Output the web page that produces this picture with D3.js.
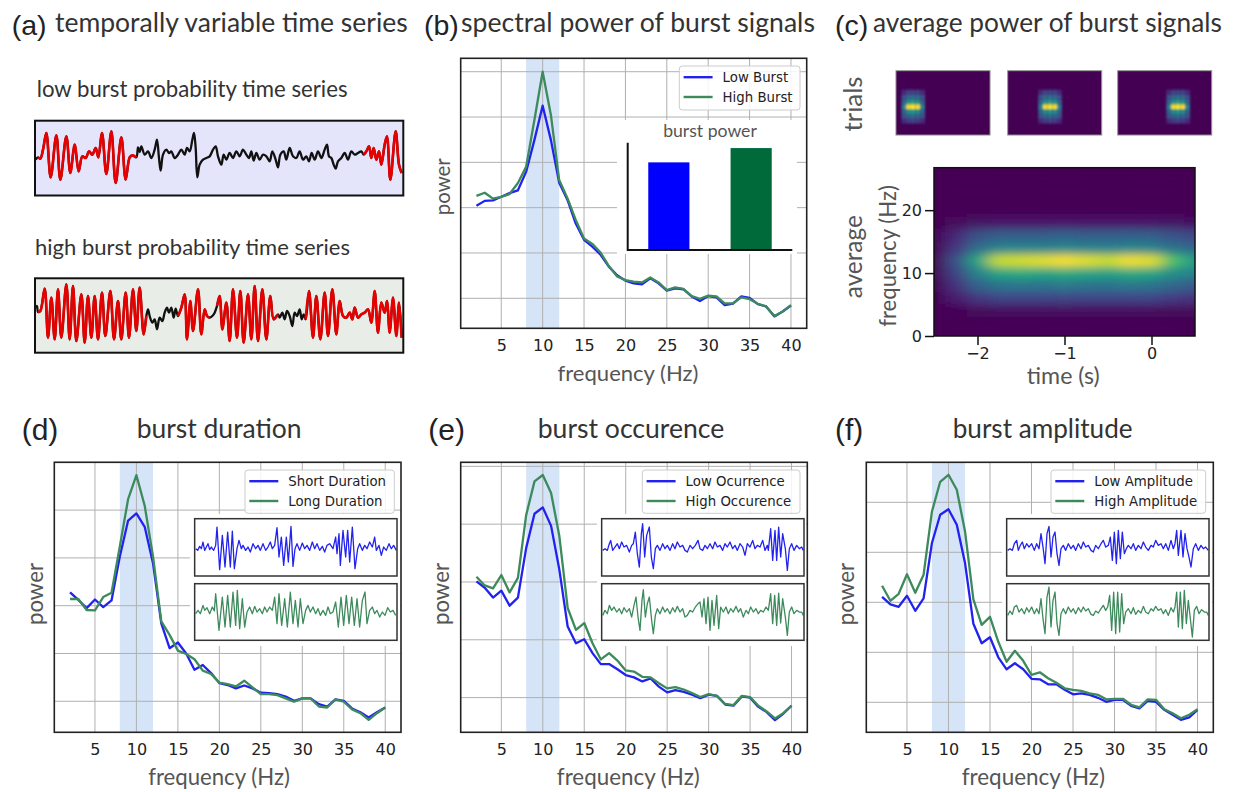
<!DOCTYPE html>
<html>
<head>
<meta charset="utf-8">
<script src="https://cdn.jsdelivr.net/npm/d3@7/dist/d3.min.js"></script>
<style>
  body { margin: 0; background: #fff; }
</style>
</head>
<body>
<svg id="fig" width="1233" height="792"></svg>
<script>
// ---------- data ----------
const freqs = [2,3,4,5,6,7,8,9,10,11,12,13,14,15,16,17,18,19,20,21,22,23,24,25,26,27,28,29,30,31,32,33,34,35,36,37,38,39,40];
const xTicks = [5,10,15,20,25,30,35,40];

// (b) spectral power
const bNames = ["Low Burst", "High Burst"];
const bLow  = [3.04,3.15,3.16,3.24,3.32,3.38,3.79,4.49,5.25,4.49,3.55,3.17,2.65,2.29,2.14,1.96,1.70,1.51,1.39,1.33,1.31,1.44,1.33,1.17,1.22,1.20,1.04,0.94,1.05,1.02,0.85,0.88,1.04,1.01,0.87,0.82,0.60,0.71,0.84];
const bHigh = [3.26,3.33,3.20,3.24,3.30,3.54,3.90,4.93,6.00,5.04,3.61,3.21,2.73,2.32,2.20,2.01,1.71,1.48,1.40,1.37,1.35,1.46,1.35,1.18,1.24,1.21,1.05,0.99,1.06,1.04,0.89,0.89,1.02,0.98,0.88,0.82,0.61,0.71,0.85];
const barPower = [0.98, 1.14];

// (d) burst duration
const dNames = ["Short Duration", "Long Duration"];
const dShort = [3.28,3.12,2.95,3.13,2.97,3.11,4.03,4.78,4.93,4.65,3.89,2.63,2.11,2.23,2.00,1.66,1.76,1.59,1.38,1.34,1.27,1.33,1.27,1.18,1.17,1.15,1.10,1.01,1.06,1.06,0.94,0.89,1.04,1.01,0.85,0.77,0.66,0.77,0.87];
const dLong  = [3.14,3.14,2.91,2.90,3.18,3.27,4.24,5.23,5.73,5.09,4.03,2.67,2.39,2.06,1.99,1.88,1.64,1.57,1.39,1.36,1.31,1.43,1.29,1.15,1.15,1.13,1.06,0.99,1.06,1.06,0.89,0.87,1.04,0.99,0.83,0.75,0.61,0.75,0.87];

// (e) burst occurence
const eNames = ["Low Ocurrence", "High Occurence"];
const eLow  = [3.01,2.90,2.73,2.85,2.59,2.73,3.59,4.18,4.29,3.97,3.21,2.23,1.94,2.01,1.77,1.58,1.58,1.49,1.39,1.35,1.28,1.33,1.19,1.09,1.13,1.10,1.05,0.99,1.05,1.03,0.88,0.86,1.02,1.00,0.84,0.75,0.61,0.72,0.86];
const eHigh = [3.09,2.94,2.89,3.12,2.82,3.07,4.16,4.74,4.85,4.54,3.79,2.55,2.17,2.29,1.94,1.66,1.77,1.64,1.47,1.45,1.36,1.35,1.25,1.16,1.18,1.14,1.08,1.01,1.06,1.03,0.89,0.87,1.03,1.01,0.86,0.76,0.64,0.73,0.86];

// (f) burst amplitude
const fNames = ["Low Amplitude", "High Amplitude"];
const fLow  = [3.11,2.96,2.91,3.13,2.83,3.08,4.18,4.75,4.86,4.55,3.78,2.57,2.18,2.30,1.90,1.66,1.78,1.66,1.47,1.46,1.36,1.36,1.25,1.16,1.18,1.15,1.09,1.01,1.05,1.05,0.93,0.88,1.03,1.01,0.85,0.75,0.65,0.70,0.85];
const fHigh = [3.33,3.03,3.17,3.56,3.19,3.55,4.81,5.41,5.55,5.25,4.41,3.06,2.55,2.71,2.21,1.81,2.03,1.83,1.55,1.60,1.48,1.39,1.28,1.25,1.23,1.18,1.15,1.06,1.07,1.07,0.95,0.90,1.06,1.05,0.86,0.78,0.68,0.75,0.86];

// (a) time series: [sample, amplitude] turning points, and burst intervals
const lowTrace = [[8,-5],[15,2],[22,-2],[30,25],[40,75],[53,-58],[70,68],[82,-65],[100,65],[112,-45],[125,40],[137,-40],[148,5],[158,0],[168,20],[178,10],[188,30],[196,2],[207,75],[220,-48],[235,80],[248,-75],[265,62],[278,-65],[290,2],[298,8],[310,2],[315,32],[320,18],[325,35],[335,10],[345,20],[355,0],[365,25],[372,55],[378,0],[383,-38],[390,10],[400,25],[408,15],[415,20],[425,0],[435,10],[445,25],[455,10],[462,30],[470,20],[478,55],[483,75],[488,30],[493,-58],[500,-20],[510,-5],[520,0],[530,5],[540,25],[548,35],[555,5],[565,-20],[572,10],[580,-5],[590,15],[600,0],[610,20],[620,5],[630,25],[640,10],[648,0],[655,20],[662,-8],[670,15],[680,-5],[690,10],[700,5],[710,-10],[718,20],[728,-5],[735,-28],[742,10],[752,20],[760,-5],[770,30],[780,5],[790,0],[800,20],[810,-5],[820,5],[828,-10],[836,15],[845,-5],[855,20],[865,0],[875,25],[882,40],[888,5],[895,0],[902,-20],[908,-32],[915,-10],[925,0],[935,15],[945,-5],[955,20],[965,10],[975,15],[985,20],[992,10],[1000,20],[1008,35],[1015,0],[1022,30],[1030,-5],[1038,20],[1045,-20],[1055,40],[1062,65],[1072,-65],[1088,80],[1098,-20],[1106,-45]];
const lowBursts = [[15,310],[992,1110]];

const highTrace = [[8,25],[12,30],[15,12],[22,15],[35,82],[45,-65],[55,55],[65,-70],[75,80],[85,-65],[100,95],[110,-70],[120,90],[130,-75],[145,65],[155,-80],[165,60],[175,-65],[185,60],[195,-70],[207,70],[217,-60],[232,75],[243,-70],[255,45],[265,-70],[278,70],[288,-65],[300,80],[310,-45],[320,85],[332,-55],[340,0],[345,20],[350,0],[358,-20],[365,-10],[372,-40],[380,-5],[388,-15],[395,10],[402,25],[408,10],[415,25],[422,-5],[428,22],[435,0],[445,25],[455,65],[462,-70],[472,45],[480,-45],[495,80],[505,-55],[515,20],[522,0],[530,-5],[538,0],[545,10],[552,30],[560,60],[568,-40],[580,40],[590,-75],[600,80],[612,-65],[622,75],[632,-80],[645,65],[655,-70],[665,90],[675,-75],[688,80],[700,-70],[712,60],[722,-10],[735,5],[740,-5],[748,10],[755,-10],[762,15],[770,0],[778,-30],[785,10],[792,0],[800,20],[806,-10],[812,5],[818,-10],[828,75],[840,-65],[850,60],[862,-70],[875,70],[885,-60],[898,80],[910,-55],[920,45],[930,0],[940,-5],[950,10],[958,-10],[965,25],[975,-5],[985,5],[995,10],[1005,20],[1015,-20],[1025,75],[1035,-50],[1045,40],[1055,10],[1062,45],[1070,-50],[1080,55],[1090,-60],[1098,40],[1106,-65]];
const highBursts = [[15,340],[435,530],[552,735],[818,1110]];

// inset traces in (d), (e), (f)
const dShortTrace = [[8,0],[14,-5],[20,7],[25,0],[30,20],[35,-5],[40,5],[45,15],[50,-3],[55,5],[62,-5],[68,10],[72,65],[80,-63],[88,40],[96,-55],[104,50],[112,-55],[118,53],[124,-60],[132,0],[138,25],[145,0],[150,10],[158,-5],[165,5],[172,-10],[180,15],[188,0],[195,10],[202,-5],[210,15],[218,-5],[225,5],[232,20],[238,0],[245,10],[252,63],[258,-25],[265,35],[272,-50],[280,35],[286,-40],[294,67],[300,-53],[306,0],[312,15],[320,-5],[328,17],[335,0],[342,10],[350,-5],[358,20],[365,0],[372,15],[380,-5],[388,7],[395,-10],[402,10],[410,15],[420,0],[428,35],[432,-15],[438,45],[442,-50],[450,55],[458,-25],[464,55],[470,-40],[478,65],[486,-60],[494,0],[500,15],[508,-5],[515,10],[522,0],[530,20],[538,5],[545,35],[550,-5],[558,10],[565,-20],[572,5],[580,-5],[588,15],[595,0],[602,10],[610,-5]];
const dLongTrace = [[8,0],[15,10],[22,0],[30,25],[35,10],[42,18],[50,0],[58,20],[64,8],[68,60],[78,-50],[88,50],[96,-40],[104,55],[112,-40],[120,65],[128,-35],[133,70],[140,-45],[148,45],[155,-40],[162,5],[170,20],[178,0],[185,22],[192,5],[200,15],[208,0],[215,20],[222,5],[230,20],[238,10],[245,50],[252,-30],[258,60],[266,-35],[275,45],[283,-40],[292,65],[300,-30],[307,40],[315,-40],[322,45],[330,-30],[338,10],[345,25],[352,5],[360,20],[368,0],[375,15],[382,-5],[390,10],[398,-5],[405,20],[412,0],[420,5],[428,35],[436,-40],[444,50],[452,-35],[460,55],[468,-30],[476,50],[484,-35],[492,45],[500,-40],[508,40],[516,65],[522,-30],[530,10],[538,20],[545,0],[552,10],[560,-10],[568,5],[576,-5],[584,18],[592,5],[600,10],[608,-5]];
const eLowTrace = [[8,-5],[15,0],[22,-5],[28,15],[32,25],[38,-5],[45,5],[52,15],[58,0],[65,20],[72,5],[80,10],[88,-10],[95,10],[100,15],[106,50],[112,-15],[118,-55],[124,45],[128,75],[134,-25],[140,40],[148,65],[154,-25],[160,-60],[166,0],[172,10],[180,-5],[188,15],[195,0],[202,10],[210,-5],[218,15],[225,0],[232,20],[240,5],[248,10],[255,-5],[262,-10],[270,10],[278,0],[286,10],[294,25],[300,0],[308,-5],[315,10],[322,0],[330,15],[338,0],[345,20],[352,5],[360,10],[368,-5],[375,15],[382,5],[390,20],[398,0],[405,10],[412,-5],[420,15],[428,5],[435,-20],[442,15],[450,5],[458,25],[465,0],[472,10],[480,5],[488,25],[495,-5],[502,10],[505,-5],[512,60],[518,-35],[525,55],[530,-35],[536,65],[542,-25],[548,45],[556,0],[562,-65],[568,0],[575,15],[582,-5],[590,10],[598,0],[605,5],[610,-5]];
const eHighTrace = [[8,-5],[15,10],[22,0],[28,25],[35,10],[42,20],[50,5],[58,15],[65,0],[72,18],[80,5],[88,15],[95,-10],[102,25],[108,50],[114,-10],[120,-50],[126,40],[130,72],[136,-10],[142,30],[148,50],[155,-20],[160,-60],[166,-5],[172,15],[180,0],[188,20],[195,5],[202,15],[210,0],[218,18],[225,5],[232,22],[240,5],[248,15],[255,-10],[262,-5],[270,10],[278,5],[286,20],[294,30],[300,35],[306,-10],[312,45],[318,-30],[324,50],[330,-50],[336,40],[342,-35],[350,55],[356,-45],[362,20],[370,5],[378,20],[385,0],[392,15],[400,5],[408,22],[415,5],[422,15],[430,-10],[438,10],[445,0],[452,20],[460,5],[468,15],[475,0],[482,10],[490,5],[498,20],[505,10],[512,60],[518,-30],[524,55],[530,-35],[536,62],[542,-28],[548,45],[556,-10],[562,-65],[568,5],[575,20],[582,0],[590,10],[598,5],[605,5],[610,-5]];
const fLowTrace = [[8,-5],[15,0],[22,-5],[28,15],[35,25],[40,-5],[46,10],[52,20],[58,0],[65,15],[72,5],[80,15],[88,-5],[95,15],[102,0],[108,45],[114,5],[120,-45],[126,45],[132,67],[138,-25],[144,35],[150,50],[156,-15],[162,-50],[168,0],[175,10],[182,-5],[190,15],[198,0],[205,10],[212,-5],[220,15],[228,0],[235,20],[242,5],[250,10],[258,-5],[265,-10],[272,10],[280,0],[288,15],[295,25],[302,5],[310,10],[316,35],[322,-35],[328,50],[334,-45],[340,55],[346,-30],[352,50],[358,-15],[364,0],[370,10],[378,0],[385,15],[392,-5],[400,10],[408,0],[415,20],[422,5],[430,-5],[438,10],[445,5],[452,25],[460,10],[468,15],[475,0],[482,15],[490,-5],[498,25],[505,0],[510,15],[515,55],[520,-20],[528,55],[534,-25],[540,45],[546,0],[552,-25],[558,-55],[565,0],[572,15],[580,-5],[588,10],[595,0],[602,5],[610,-5]];
const fHighTrace = [[8,-5],[15,8],[22,-2],[28,20],[35,25],[42,5],[50,15],[58,0],[65,18],[72,5],[80,20],[88,0],[95,15],[102,0],[108,45],[114,-15],[120,-60],[126,50],[132,80],[138,-40],[144,40],[150,65],[156,-30],[162,-65],[168,0],[175,15],[182,0],[190,20],[198,5],[205,15],[212,0],[220,18],[228,5],[235,20],[242,8],[250,15],[258,-2],[265,-5],[272,8],[280,2],[288,15],[295,25],[302,10],[308,20],[314,55],[320,-50],[326,65],[332,-60],[338,65],[344,-55],[350,60],[356,-30],[362,5],[370,15],[378,0],[385,18],[392,-2],[400,10],[408,2],[415,22],[422,5],[430,0],[438,15],[445,8],[452,22],[460,10],[468,15],[475,0],[482,12],[490,-5],[498,18],[505,5],[510,20],[515,65],[520,-40],[526,65],[532,-45],[538,70],[544,-30],[550,40],[556,-15],[562,-70],[568,10],[575,22],[582,0],[590,12],[598,5],[605,5],[610,-5]];

// (c) average time-frequency power (rows = frequency, cols = time)
const avgTimes = [-2.5,-2.25,-2,-1.75,-1.5,-1.25,-1,-0.75,-0.5,-0.25,0,0.25,0.5];
const avgFreqs = [0,2,4,6,8,10,12,14,16,18,20,22,24,26];
const zeroRow = [0,0,0,0,0,0,0,0,0,0,0,0,0];
const avgPower = [
  zeroRow, zeroRow,
  [0,0.01,0.02,0.03,0.03,0.03,0.03,0.03,0.03,0.03,0.03,0.02,0.02],
  [0,0.07,0.16,0.20,0.20,0.20,0.21,0.20,0.20,0.20,0.20,0.17,0.14],
  [0,0.14,0.32,0.39,0.39,0.39,0.41,0.39,0.38,0.40,0.39,0.33,0.28],
  [0,0.20,0.45,0.60,0.62,0.60,0.62,0.60,0.58,0.62,0.60,0.50,0.45],
  [0,0.25,0.60,0.92,0.94,0.96,1.00,0.96,0.92,0.99,0.96,0.72,0.56],
  [0,0.16,0.36,0.46,0.46,0.46,0.48,0.46,0.44,0.47,0.46,0.39,0.33],
  [0,0.11,0.25,0.30,0.30,0.30,0.32,0.30,0.30,0.31,0.30,0.25,0.21],
  [0,0.02,0.05,0.06,0.06,0.06,0.06,0.06,0.06,0.06,0.06,0.05,0.04],
  zeroRow, zeroRow, zeroRow, zeroRow
];
// single trials: burst time and a small burst kernel
const trialTimes = [-1.95, -1.15, -0.57];
const trialFreq = 11.8;
const kernelTimes = [-0.3,-0.15,0,0.15,0.3];
const kernelFreqs = [-6,-4,-2,0,2,4,6];
const kernelPower = [
  [0.12,0.18,0.20,0.18,0.12],
  [0.25,0.32,0.35,0.32,0.25],
  [0.32,0.50,0.55,0.50,0.32],
  [0.45,0.98,1.00,0.98,0.45],
  [0.32,0.52,0.58,0.52,0.32],
  [0.25,0.34,0.36,0.34,0.25],
  [0.12,0.20,0.20,0.20,0.12]
];

// ---------- drawing ----------
const svg = d3.select("#fig");
const defs = svg.append("defs");
const BLUE = "#2222f0", GREEN = "#3d8a5c", RED = "#e60000";
const tickFont = "'DejaVu Sans', sans-serif";
const titleFont = "Lato, 'Open Sans', sans-serif";
const letterFont = "'Liberation Sans', Arial, sans-serif";

// text helper, optionally squeezed to a target width
function txt(x, y, s, o = {}) {
  const size = o.size || 20;
  const t = svg.append("text")
    .attr("x", x).attr("y", y).text(s)
    .attr("font-family", o.font || titleFont)
    .attr("font-size", size)
    .attr("fill", o.fill || "#333")
    .attr("text-anchor", o.anchor || "start");
  if (o.rotate) t.attr("transform", `rotate(-90,${x},${y})`).attr("dominant-baseline", "central");
  if (o.width) {
    const l = t.node().getComputedTextLength();
    t.attr("font-size", (size * o.width / l).toFixed(2));
  }
  return t;
}

// panel titles
txt(11.7, 35, "(a)", {font: letterFont, size: 28.5, fill: "#222"});
txt(55, 32, "temporally variable time series", {size: 22, width: 353});
txt(424, 35, "(b)", {font: letterFont, size: 28.5, fill: "#222"});
txt(461, 32, "spectral power of burst signals", {size: 22, width: 354});
txt(835, 35, "(c)", {font: letterFont, size: 28.5, fill: "#222"});
txt(873, 32, "average power of burst signals", {size: 22, width: 349});
txt(21.7, 440, "(d)", {font: letterFont, size: 30, fill: "#222"});
txt(136.7, 438, "burst duration", {size: 24, width: 165});
txt(428.3, 440, "(e)", {font: letterFont, size: 30, fill: "#222"});
txt(537.7, 438, "burst occurence", {size: 24, width: 186.7});
txt(835, 440, "(f)", {font: letterFont, size: 30, fill: "#222"});
txt(952.7, 438, "burst amplitude", {size: 24, width: 180});

// ---- (a) time series boxes
txt(36.7, 96.7, "low burst probability time series", {size: 19, width: 311});
txt(35, 255, "high burst probability time series", {size: 19, width: 315});

function drawTrace(box, trace, bursts) {
  const x = d3.scaleLinear().domain([0, 1116]).range([33, 405]);
  const y = d3.scaleLinear().domain([-120, 120]).range([box.zero + 40, box.zero - 40]);
  svg.append("rect").attr("x", 35).attr("y", box.top).attr("width", 368.3).attr("height", box.h)
    .attr("fill", box.fill);
  const line = d3.line().x(d => x(d[0])).y(d => y(d[1])).curve(d3.curveCatmullRom.alpha(0.5));
  svg.append("path").attr("d", line(trace)).attr("fill", "none")
    .attr("stroke", "#111").attr("stroke-width", 2.3).attr("stroke-linejoin", "round");
  bursts.forEach(b => {
    svg.append("path").attr("d", line(trace.filter(d => d[0] >= b[0] && d[0] <= b[1])))
      .attr("fill", "none").attr("stroke", RED).attr("stroke-width", 2.6).attr("stroke-linejoin", "round");
  });
  svg.append("rect").attr("x", 35).attr("y", box.top).attr("width", 368.3).attr("height", box.h)
    .attr("fill", "none").attr("stroke", "#111").attr("stroke-width", 2);
}
drawTrace({top: 120.7, h: 74.8, zero: 158, fill: "#e4e4fa"}, lowTrace, lowBursts);
drawTrace({top: 278.3, h: 74.4, zero: 316, fill: "#e8ede8"}, highTrace, highBursts);

// ---- spectrum panels (b, d, e, f)
function drawInset(x0, traces) {
  const x = d3.scaleLinear().domain([0, 618]).range([x0, x0 + 206]);
  const zeros = [548.7, 613.7];
  const boxes = [[518.7, 57.3], [583.7, 56.6]];
  const colors = [BLUE, GREEN];
  traces.forEach((tr, k) => {
    const y = d3.scaleLinear().domain([-85, 85]).range([zeros[k] + 85 / 3, zeros[k] - 85 / 3]);
    svg.append("path")
      .attr("d", d3.line().x(d => x(d[0])).y(d => y(d[1]))(tr))
      .attr("fill", "none").attr("stroke", colors[k]).attr("stroke-width", 1.3).attr("stroke-linejoin", "round");
    svg.append("rect").attr("x", x(5)).attr("y", boxes[k][0]).attr("width", x(612) - x(5)).attr("height", boxes[k][1])
      .attr("fill", "none").attr("stroke", "#333").attr("stroke-width", 1.5);
  });
}

function spectrumPanel(p) {
  const x = d3.scaleLinear().domain([0.1, 41.9]).range([p.left, p.right]);
  const y = d3.scaleLinear().domain(p.yDomain).range([p.bottom, p.top]);
  const g = svg.append("g");
  // alpha band
  g.append("rect").attr("x", x(8)).attr("width", x(12) - x(8))
    .attr("y", p.top).attr("height", p.bottom - p.top).attr("fill", "#d5e4f6");
  // grid
  g.selectAll(".vg").data(xTicks).join("line")
    .attr("x1", d => x(d)).attr("x2", d => x(d)).attr("y1", p.top).attr("y2", p.bottom)
    .attr("stroke", "#b0b0b0").attr("stroke-width", 1);
  g.selectAll(".hg").data(d3.range(1, Math.floor(p.yDomain[1]) + 1)).join("line")
    .attr("x1", p.left).attr("x2", p.right).attr("y1", d => y(d)).attr("y2", d => y(d))
    .attr("stroke", "#b0b0b0").attr("stroke-width", 1);
  // white background of the inset
  g.append("rect").attr("x", p.insetBg[0]).attr("y", p.insetBg[1])
    .attr("width", p.insetBg[2]).attr("height", p.insetBg[3]).attr("fill", "#fff");
  // spectra
  const line = d3.line().x((d, i) => x(freqs[i])).y(d => y(d));
  [BLUE, GREEN].forEach((c, k) => {
    g.append("path").attr("d", line(p.series[k])).attr("fill", "none")
      .attr("stroke", c).attr("stroke-width", 2.3).attr("stroke-linejoin", "round");
  });
  // frame
  g.append("rect").attr("x", p.left).attr("y", p.top)
    .attr("width", p.right - p.left).attr("height", p.bottom - p.top)
    .attr("fill", "none").attr("stroke", "#222").attr("stroke-width", 1.6);
  // x tick labels
  const ax = g.append("g").attr("transform", `translate(0,${p.bottom})`)
    .call(d3.axisBottom(x).tickValues(xTicks).tickSize(0).tickPadding(11));
  ax.select(".domain").remove();
  ax.selectAll("text").attr("font-family", tickFont).attr("font-size", 16).attr("fill", "#222");
  // legend
  const L = p.legend;
  svg.append("rect").attr("x", L.x).attr("y", L.y).attr("width", L.w).attr("height", L.h)
    .attr("rx", 3).attr("fill", "#fff").attr("fill-opacity", 0.85).attr("stroke", "#ccc");
  [BLUE, GREEN].forEach((c, k) => {
    const ly = L.y + 11.2 + k * 19.8;
    svg.append("line").attr("x1", L.x + 4.3).attr("x2", L.x + 33.3).attr("y1", ly).attr("y2", ly)
      .attr("stroke", c).attr("stroke-width", 2.4);
    txt(L.x + 43.3, ly, p.names[k], {font: tickFont, size: 13.3, fill: "#222"})
      .attr("dominant-baseline", "central");
  });
  // axis labels
  txt(p.ylab[0], p.ylab[1], "power", {rotate: true, anchor: "middle", size: 20, width: p.ylab[2], fill: "#555"});
  txt(p.xlab[0], p.bottom + 52.5, "frequency (Hz)", {anchor: "middle", size: 20, width: p.xlab[1], fill: "#555"});
  if (p.inset) drawInset(p.inset[0], p.inset[1]);
}

spectrumPanel({left: 460.7, right: 806.7, top: 58.3, bottom: 328.3, yDomain: [0.338, 6.296],
  series: [bLow, bHigh], names: bNames, legend: {x: 679.3, y: 66, w: 120.7, h: 44},
  insetBg: [617, 120, 180, 134], ylab: [441.7, 186.7, 57], xlab: [628, 141]});
spectrumPanel({left: 54.3, right: 401, top: 462.3, bottom: 732.3, yDomain: [0.351, 6.0],
  series: [dShort, dLong], names: dNames, legend: {x: 245, y: 470, w: 149.3, h: 43.3},
  insetBg: [190, 514, 210, 132], ylab: [34, 594, 62], xlab: [219, 141.7],
  inset: [193, [dShortTrace, dLongTrace]]});
spectrumPanel({left: 460.7, right: 807.3, top: 462.3, bottom: 732.3, yDomain: [0.40, 5.07],
  series: [eLow, eHigh], names: eNames, legend: {x: 642.3, y: 470, w: 157.7, h: 43.3},
  insetBg: [597, 514, 209, 132], ylab: [440.5, 594, 62], xlab: [628.3, 143],
  inset: [600, [eLowTrace, eHighTrace]]});
spectrumPanel({left: 866.3, right: 1213.3, top: 462.3, bottom: 732.3, yDomain: [0.40, 5.8],
  series: [fLow, fHigh], names: fNames, legend: {x: 1051, y: 470, w: 154.7, h: 43.3},
  insetBg: [1002, 514, 210, 132], ylab: [845.5, 594, 62.5], xlab: [1033.3, 143.3],
  inset: [1005, [fLowTrace, fHighTrace]]});

// ---- (b) inset bar chart: burst power
{
  const bx = d3.scaleBand().domain(bNames).range([627.7, 792.3]).paddingInner(0.5).paddingOuter(0.25);
  const by = d3.scaleLinear().domain([0, 1.2]).range([250, 142.7]);
  svg.selectAll(".bar").data(barPower).join("rect")
    .attr("x", (d, i) => bx(bNames[i])).attr("width", bx.bandwidth())
    .attr("y", d => by(d)).attr("height", d => by(0) - by(d))
    .attr("fill", (d, i) => ["#0000ff", "#006a3a"][i]);
  svg.append("path").attr("d", `M${627.7},${by(1.2)}V${by(0)}H${792.3}`)
    .attr("fill", "none").attr("stroke", "#111").attr("stroke-width", 2);
  txt(710, 137, "burst power", {anchor: "middle", size: 17, width: 93.7, fill: "#555"});
}

// ---- (c) time-frequency images
const blur = defs.append("filter").attr("id", "blurAvg")
  .attr("x", "-10%").attr("y", "-10%").attr("width", "120%").attr("height", "120%");
blur.append("feGaussianBlur").attr("stdDeviation", "8 4");
const blurT = defs.append("filter").attr("id", "blurTrial")
  .attr("x", "-20%").attr("y", "-20%").attr("width", "140%").attr("height", "140%");
blurT.append("feGaussianBlur").attr("stdDeviation", "1.3");

{
  const cx = d3.scaleLinear().domain([-2.5, 0.5]).range([934, 1195]);
  const cy = d3.scaleLinear().domain([0, 26.75]).range([336, 167.7]);
  defs.append("clipPath").attr("id", "clipAvg").append("rect")
    .attr("x", 934).attr("y", 167.7).attr("width", 261).attr("height", 168.3);
  const g = svg.append("g").attr("clip-path", "url(#clipAvg)");
  g.append("rect").attr("x", 934).attr("y", 167.7).attr("width", 261).attr("height", 168.3)
    .attr("fill", d3.interpolateViridis(0));
  const cells = [];
  avgPower.forEach((row, i) => row.forEach((v, j) => cells.push({t: avgTimes[j], f: avgFreqs[i], v, i, j})));
  const lastJ = avgTimes.length - 1, lastI = avgFreqs.length - 1;
  const left = d => cx(d.j === 0 ? d.t - 0.5 : d.t - 0.125);
  const right = d => cx(d.j === lastJ ? d.t + 0.5 : d.t + 0.125);
  const top = d => cy(d.i === lastI ? d.f + 3 : d.f + 1);
  const bottom = d => cy(d.i === 0 ? d.f - 3 : d.f - 1);
  g.append("g").attr("filter", "url(#blurAvg)")
    .selectAll("rect").data(cells).join("rect")
    .attr("x", left).attr("width", d => right(d) - left(d))
    .attr("y", top).attr("height", d => bottom(d) - top(d))
    .attr("fill", d => d3.interpolateViridis(d.v));
  svg.append("rect").attr("x", 934).attr("y", 167.7).attr("width", 261).attr("height", 168.3)
    .attr("fill", "none").attr("stroke", "#111").attr("stroke-width", 1.5);
  const ay = svg.append("g").attr("transform", "translate(934,0)")
    .call(d3.axisLeft(cy).tickValues([0, 10, 20]).tickFormat(d3.format("d")).tickSize(9).tickPadding(3));
  const axb = svg.append("g").attr("transform", "translate(0,336)")
    .call(d3.axisBottom(cx).tickValues([-2, -1, 0]).tickFormat(d3.format("d")).tickSize(9).tickPadding(3));
  [ay, axb].forEach(a => {
    a.select(".domain").remove();
    a.selectAll("line").attr("stroke", "#111").attr("stroke-width", 1.5);
    a.selectAll("text").attr("font-family", tickFont).attr("font-size", 16).attr("fill", "#222");
  });
  txt(1063.3, 384, "time (s)", {anchor: "middle", size: 20, width: 73, fill: "#555"});
  txt(887, 256, "frequency (Hz)", {rotate: true, anchor: "middle", size: 20, width: 141.7, fill: "#555"});
  txt(853, 256.7, "average", {rotate: true, anchor: "middle", size: 22, width: 83, fill: "#555"});
  txt(852.3, 104, "trials", {rotate: true, anchor: "middle", size: 22, width: 55, fill: "#555"});

  // single trials
  const trialX = [896, 1007.7, 1117.7];
  trialTimes.forEach((tt, k) => {
    const x0 = trialX[k], y0 = 70.7, w = 94, h = 64.3;
    const tx = d3.scaleLinear().domain([-2.5, 0.5]).range([x0, x0 + w]);
    const ty = d3.scaleLinear().domain([0, 26.75]).range([y0 + h, y0]);
    defs.append("clipPath").attr("id", "clipTrial" + k).append("rect")
      .attr("x", x0).attr("y", y0).attr("width", w).attr("height", h);
    const tg = svg.append("g").attr("clip-path", `url(#clipTrial${k})`);
    tg.append("rect").attr("x", x0).attr("y", y0).attr("width", w).attr("height", h)
      .attr("fill", d3.interpolateViridis(0));
    const kc = [];
    kernelPower.forEach((row, i) => row.forEach((v, j) => kc.push({t: tt + kernelTimes[j], f: trialFreq + kernelFreqs[i], v})));
    tg.append("g").attr("filter", "url(#blurTrial)")
      .selectAll("rect").data(kc).join("rect")
      .attr("x", d => tx(d.t - 0.075)).attr("width", tx(0.15) - tx(0))
      .attr("y", d => ty(d.f + 1)).attr("height", ty(0) - ty(2))
      .attr("fill", d => d3.interpolateViridis(d.v));
    svg.append("rect").attr("x", x0).attr("y", y0).attr("width", w).attr("height", h)
      .attr("fill", "none").attr("stroke", "#8a8a8a").attr("stroke-width", 1);
  });
}
</script>
</body>
</html>
